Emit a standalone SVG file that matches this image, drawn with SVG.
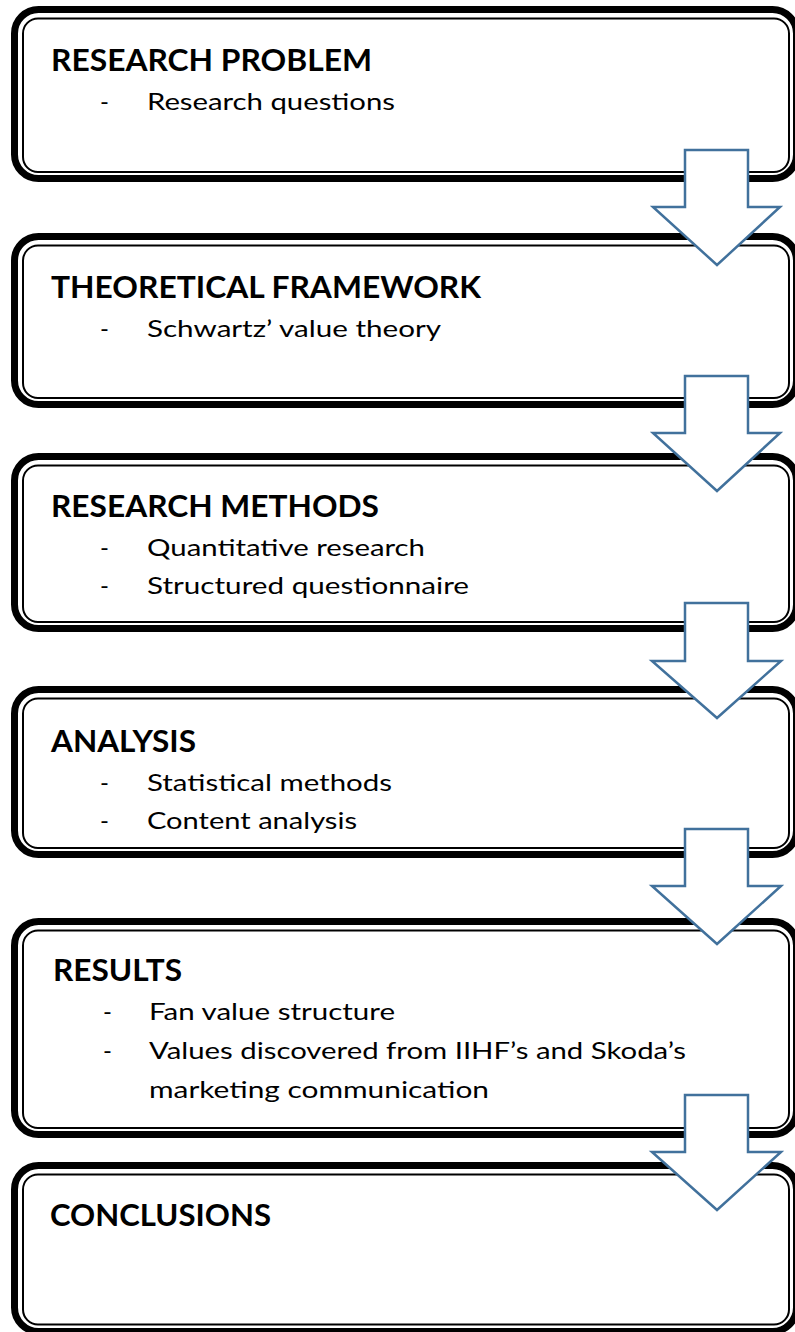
<svg xmlns="http://www.w3.org/2000/svg" width="795" height="1332" viewBox="0 0 795 1332">
  <style>
    .outer { fill: #ffffff; stroke: #000000; stroke-width: 7; }
    .inner { fill: none; stroke: #000000; stroke-width: 2; }
    .title { font-family: Lato, "Liberation Sans", sans-serif; font-weight: bold; font-size: 30px; fill: #000000; }
    .body { font-family: Lato, "Liberation Sans", sans-serif; font-size: 24px; fill: #000000; }
    .arrow { fill: #ffffff; stroke: #41719C; stroke-width: 2.5; stroke-linejoin: miter; }
  </style>
  <defs>
    <clipPath id="clip-methods"><rect x="0" y="440" width="795" height="158"/></clipPath>
    <clipPath id="clip-analysis"><rect x="0" y="680" width="795" height="154"/></clipPath>
  </defs>

  <g id="research-problem">
    <rect class="outer" x="14.5" y="9.5" width="782" height="169" rx="24"/>
    <rect class="inner" x="23" y="18.5" width="766" height="153.5" rx="15"/>
    <text class="title" x="51" y="71" textLength="321" lengthAdjust="spacingAndGlyphs">RESEARCH PROBLEM</text>
    <text class="body" x="100" y="110">-</text>
    <text class="body" x="147" y="110" textLength="248" lengthAdjust="spacingAndGlyphs">Research questions</text>
  </g>

  <g id="theoretical-framework">
    <rect class="outer" x="14.5" y="236.5" width="782" height="168" rx="24"/>
    <rect class="inner" x="23" y="245.5" width="766" height="152.5" rx="15"/>
    <text class="title" x="51" y="298" textLength="430" lengthAdjust="spacingAndGlyphs">THEORETICAL FRAMEWORK</text>
    <text class="body" x="100" y="337">-</text>
    <text class="body" x="147" y="337" textLength="294" lengthAdjust="spacingAndGlyphs">Schwartz’ value theory</text>
  </g>

  <g id="research-methods">
    <rect class="outer" x="14.5" y="456.5" width="782" height="172" rx="24"/>
    <rect class="inner" x="23" y="465.5" width="766" height="156.5" rx="15"/>
    <g clip-path="url(#clip-methods)">
      <text class="title" x="51" y="517" textLength="328" lengthAdjust="spacingAndGlyphs">RESEARCH METHODS</text>
      <text class="body" x="100" y="556">-</text>
      <text class="body" x="147" y="556" textLength="278" lengthAdjust="spacingAndGlyphs">Quantitative research</text>
      <text class="body" x="100" y="594">-</text>
      <text class="body" x="147" y="594" textLength="322" lengthAdjust="spacingAndGlyphs">Structured questionnaire</text>
    </g>
  </g>

  <g id="analysis">
    <rect class="outer" x="14.5" y="689.5" width="782" height="165" rx="24"/>
    <rect class="inner" x="23" y="698.5" width="766" height="149.5" rx="15"/>
    <g clip-path="url(#clip-analysis)">
      <text class="title" x="51" y="752" textLength="145" lengthAdjust="spacingAndGlyphs">ANALYSIS</text>
      <text class="body" x="100" y="791">-</text>
      <text class="body" x="147" y="791" textLength="245" lengthAdjust="spacingAndGlyphs">Statistical methods</text>
      <text class="body" x="100" y="829">-</text>
      <text class="body" x="147" y="829" textLength="210" lengthAdjust="spacingAndGlyphs">Content analysis</text>
    </g>
  </g>

  <g id="results">
    <rect class="outer" x="14.5" y="921.5" width="782" height="213" rx="24"/>
    <rect class="inner" x="23" y="930.5" width="766" height="197.5" rx="15"/>
    <text class="title" x="53" y="981" textLength="129" lengthAdjust="spacingAndGlyphs">RESULTS</text>
    <text class="body" x="103" y="1020">-</text>
    <text class="body" x="149" y="1020" textLength="246" lengthAdjust="spacingAndGlyphs">Fan value structure</text>
    <text class="body" x="103" y="1059">-</text>
    <text class="body" x="149" y="1059" textLength="537" lengthAdjust="spacingAndGlyphs">Values discovered from IIHF’s and Skoda’s</text>
    <text class="body" x="149" y="1098" textLength="340" lengthAdjust="spacingAndGlyphs">marketing communication</text>
  </g>

  <g id="conclusions">
    <rect class="outer" x="14.5" y="1165.5" width="782" height="166" rx="24"/>
    <rect class="inner" x="23" y="1174.5" width="766" height="150" rx="15"/>
    <text class="title" x="50" y="1226" textLength="221" lengthAdjust="spacingAndGlyphs">CONCLUSIONS</text>
  </g>

  <!-- block arrows between stages -->
  <g id="connectors">
    <polygon class="arrow" points="685,150 748,150 748,207 780,207 717,265 653,207 685,207"/>
    <polygon class="arrow" points="685,376 748,376 748,433 780,433 717,491 653,433 685,433"/>
    <polygon class="arrow" points="685,603 748,603 748,661 781,661 717,718 652,661 685,661"/>
    <polygon class="arrow" points="685,829 748,829 748,886 781,886 717,944 652,886 685,886"/>
    <polygon class="arrow" points="685,1095 748,1095 748,1152 781,1152 717,1210 652,1152 685,1152"/>
  </g>
</svg>
